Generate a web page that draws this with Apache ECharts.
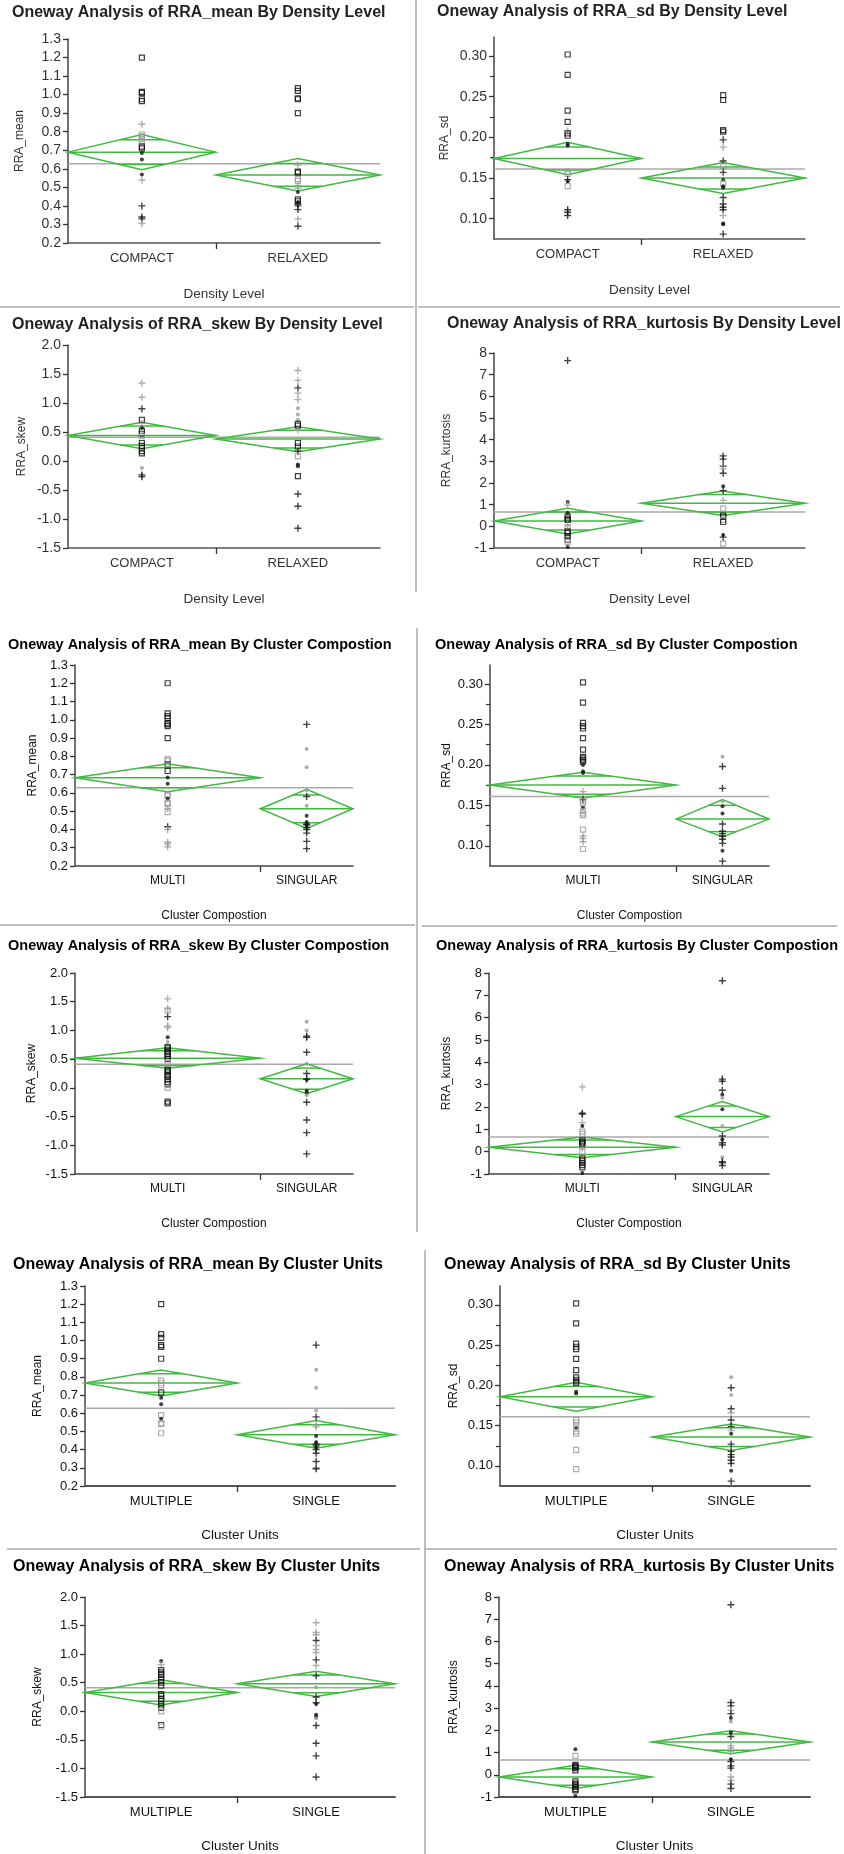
<!DOCTYPE html>
<html><head><meta charset="utf-8">
<script src="https://cdn.jsdelivr.net/npm/echarts@6/dist/echarts.min.js"></script>
<style>html,body{margin:0;padding:0;background:#fff}#c{width:844px;height:1854px}</style>
</head><body><div id="c"></div><script>
// ---------------- DATA ----------------
// factors
const densityCats = ['COMPACT', 'RELAXED'];
const densityN = [27, 30];
const compositionCats = ['MULTI', 'SINGULAR'];
const compositionN = [38, 19];
const unitsCats = ['MULTIPLE', 'SINGLE'];
const unitsN = [28, 29];

// tick values
const meanTicks = [0.2,0.3,0.4,0.5,0.6,0.7,0.8,0.9,1.0,1.1,1.2,1.3];
const sdTicks = [0.10,0.15,0.20,0.25,0.30];
const sdMinorTicks = [0.125,0.175,0.225,0.275];
const skewTicks = [-1.5,-1.0,-0.5,0.0,0.5,1.0,1.5,2.0];
const kurtTicks = [-1,0,1,2,3,4,5,6,7,8];

// grand means
const gmMean = 0.628, gmSd = 0.161, gmSkew = 0.41, gmKurt = 0.66;

// point codes: s=square, p=plus, d=dot ; k=black, g=grey
const meanDensity_COMPACT = [[1.20,'sk'],[1.015,'sk'],[1.01,'sk'],[0.975,'sk'],[0.965,'sk'],[0.84,'pg'],[0.785,'sg'],[0.775,'sg'],[0.76,'sg'],[0.75,'sg'],[0.72,'sk'],[0.71,'sk'],[0.685,'dk'],[0.65,'dk'],[0.57,'dk'],[0.54,'pg'],[0.40,'pk'],[0.34,'pk'],[0.33,'pk'],[0.305,'pg']];
const meanDensity_RELAXED = [[1.035,'sk'],[1.02,'sk'],[0.98,'sk'],[0.975,'sk'],[0.90,'sk'],[0.62,'pg'],[0.585,'sk'],[0.58,'sk'],[0.545,'sg'],[0.535,'sg'],[0.51,'pg'],[0.495,'pg'],[0.475,'dk'],[0.435,'sk'],[0.425,'sk'],[0.42,'dk'],[0.41,'pk'],[0.40,'pk'],[0.38,'pk'],[0.33,'pg'],[0.29,'pk']];
const meanDensity_stats = [[0.69,0.595,0.785],[0.567,0.48,0.655]];

const sdDensity_COMPACT = [[0.302,'sk'],[0.277,'sk'],[0.233,'sk'],[0.219,'sk'],[0.208,'pg'],[0.205,'sk'],[0.202,'sk'],[0.192,'dk'],[0.19,'dk'],[0.158,'sg'],[0.155,'sg'],[0.148,'pk'],[0.146,'dk'],[0.14,'sg'],[0.111,'pk'],[0.108,'pk'],[0.104,'pk']];
const sdDensity_RELAXED = [[0.252,'sk'],[0.246,'sk'],[0.209,'sk'],[0.207,'sk'],[0.197,'pk'],[0.188,'pg'],[0.171,'pk'],[0.165,'sg'],[0.157,'pk'],[0.148,'dk'],[0.143,'sg'],[0.14,'dk'],[0.138,'dk'],[0.126,'pk'],[0.118,'pk'],[0.114,'pk'],[0.111,'pk'],[0.104,'pg'],[0.094,'dk'],[0.093,'dk'],[0.081,'pk']];
const sdDensity_stats = [[0.174,0.154,0.194],[0.150,0.131,0.169]];

const skewDensity_COMPACT = [[1.345,'pg'],[1.10,'pg'],[0.90,'pk'],[0.71,'sk'],[0.65,'pg'],[0.57,'dk'],[0.52,'sk'],[0.47,'sk'],[0.43,'sg'],[0.31,'sk'],[0.26,'sk'],[0.22,'sk'],[0.17,'sk'],[0.13,'sk'],[-0.12,'dg'],[-0.24,'pk'],[-0.27,'pk']];
const skewDensity_RELAXED = [[1.56,'pg'],[1.39,'pg'],[1.26,'pk'],[1.17,'pg'],[1.06,'pg'],[0.91,'dg'],[0.80,'dg'],[0.71,'dg'],[0.64,'sk'],[0.61,'sk'],[0.54,'pg'],[0.31,'sk'],[0.25,'sk'],[0.17,'pk'],[0.08,'sg'],[-0.06,'dk'],[-0.09,'dk'],[-0.26,'sk'],[-0.57,'pk'],[-0.78,'pk'],[-1.16,'pk']];
const skewDensity_stats = [[0.44,0.21,0.67],[0.38,0.16,0.59]];

const kurtDensity_COMPACT = [[7.65,'pk'],[1.12,'dk'],[0.98,'pg'],[0.62,'dk'],[0.46,'sk'],[0.36,'sk'],[0.30,'sk'],[0.08,'pg'],[-0.08,'sg'],[-0.23,'sk'],[-0.30,'sk'],[-0.45,'sk'],[-0.62,'sk'],[-0.72,'sg'],[-0.95,'dk']];
const kurtDensity_RELAXED = [[3.25,'pk'],[3.1,'pk'],[2.78,'pk'],[2.65,'pg'],[2.45,'pk'],[1.85,'dk'],[1.65,'pk'],[1.2,'pg'],[0.82,'sg'],[0.5,'sk'],[0.45,'sk'],[0.3,'sg'],[0.2,'sk'],[-0.4,'dk'],[-0.5,'pk'],[-0.8,'sg']];
const kurtDensity_stats = [[0.25,-0.35,0.83],[1.07,0.5,1.63]];

const meanComp_MULTI = [[1.20,'sk'],[1.035,'sk'],[1.02,'sk'],[1.01,'sk'],[0.98,'sk'],[0.975,'sk'],[0.965,'sk'],[0.90,'sk'],[0.785,'sg'],[0.775,'sg'],[0.755,'sk'],[0.75,'sg'],[0.72,'sk'],[0.685,'dk'],[0.65,'dk'],[0.59,'sg'],[0.585,'sg'],[0.57,'dk'],[0.545,'sg'],[0.54,'sg'],[0.515,'pg'],[0.495,'sg'],[0.415,'pk'],[0.40,'pg'],[0.33,'pg'],[0.32,'pg'],[0.305,'pg']];
const meanComp_SINGULAR = [[0.975,'pk'],[0.84,'dg'],[0.74,'dg'],[0.615,'dg'],[0.58,'pk'],[0.53,'dg'],[0.475,'dk'],[0.44,'dk'],[0.43,'pk'],[0.425,'pk'],[0.42,'dk'],[0.41,'pk'],[0.40,'pk'],[0.38,'pk'],[0.335,'pk'],[0.295,'pk']];
const meanComp_stats = [[0.683,0.606,0.76],[0.513,0.405,0.62]];

const sdComp_MULTI = [[0.302,'sk'],[0.277,'sk'],[0.252,'sk'],[0.248,'sk'],[0.245,'sk'],[0.233,'sk'],[0.219,'sk'],[0.21,'sk'],[0.208,'sk'],[0.206,'sk'],[0.204,'sk'],[0.2,'dk'],[0.192,'dk'],[0.19,'dk'],[0.167,'pg'],[0.16,'pg'],[0.157,'pk'],[0.155,'sg'],[0.152,'sg'],[0.147,'dk'],[0.143,'sg'],[0.14,'sg'],[0.138,'sg'],[0.12,'sg'],[0.112,'pg'],[0.109,'pg'],[0.105,'pg'],[0.096,'sg']];
const sdComp_SINGULAR = [[0.21,'dg'],[0.198,'pk'],[0.171,'pk'],[0.155,'dg'],[0.149,'dk'],[0.14,'dk'],[0.127,'pk'],[0.118,'pk'],[0.115,'pk'],[0.112,'pk'],[0.108,'pk'],[0.103,'pk'],[0.094,'dk'],[0.081,'pk']];
const sdComp_stats = [[0.175,0.159,0.191],[0.133,0.111,0.157]];

const skewComp_MULTI = [[1.55,'pg'],[1.38,'pg'],[1.35,'sg'],[1.24,'pk'],[1.08,'pg'],[1.05,'pg'],[0.88,'dk'],[0.80,'dg'],[0.71,'sk'],[0.69,'sk'],[0.65,'sk'],[0.62,'sk'],[0.59,'sk'],[0.55,'sk'],[0.5,'sk'],[0.44,'sg'],[0.32,'sk'],[0.3,'sk'],[0.27,'sk'],[0.22,'sk'],[0.2,'sk'],[0.15,'sk'],[0.1,'sk'],[0.06,'sk'],[0.0,'sg'],[-0.24,'sk'],[-0.27,'sk']];
const skewComp_SINGULAR = [[1.15,'dg'],[1.0,'dg'],[0.9,'pk'],[0.88,'pk'],[0.62,'pk'],[0.42,'dg'],[0.25,'pk'],[0.15,'pk'],[0.14,'dk'],[-0.05,'dk'],[-0.08,'dk'],[-0.13,'dg'],[-0.25,'pk'],[-0.56,'pk'],[-0.78,'pk'],[-1.15,'pk']];
const skewComp_stats = [[0.515,0.34,0.70],[0.16,-0.10,0.42]];

const kurtComp_MULTI = [[2.9,'pg'],[1.72,'pk'],[1.68,'pk'],[1.3,'pg'],[1.15,'dk'],[0.9,'sg'],[0.8,'sg'],[0.5,'sk'],[0.45,'sk'],[0.4,'sk'],[0.35,'sk'],[0.15,'pg'],[0.0,'sg'],[-0.3,'sk'],[-0.4,'sk'],[-0.5,'sk'],[-0.6,'sk'],[-0.7,'sk'],[-0.95,'dk']];
const kurtComp_SINGULAR = [[7.65,'pk'],[3.25,'pk'],[3.15,'pk'],[2.75,'pk'],[2.55,'dk'],[2.4,'dg'],[1.9,'dk'],[1.15,'dg'],[0.7,'pk'],[0.55,'dk'],[0.4,'pk'],[0.3,'pk'],[-0.25,'dg'],[-0.45,'pk'],[-0.5,'pk'],[-0.62,'pk']];
const kurtComp_stats = [[0.2,-0.27,0.66],[1.57,0.88,2.24]];

const meanUnits_MULTIPLE = [[1.20,'sk'],[1.035,'sk'],[1.015,'sk'],[0.975,'sk'],[0.965,'sk'],[0.90,'sk'],[0.78,'sg'],[0.765,'sg'],[0.755,'sg'],[0.715,'sk'],[0.685,'dk'],[0.65,'dk'],[0.59,'sg'],[0.57,'dk'],[0.545,'sg'],[0.54,'sg'],[0.49,'sg']];
const meanUnits_SINGLE = [[0.975,'pk'],[0.84,'dg'],[0.74,'dg'],[0.615,'dg'],[0.58,'pk'],[0.535,'pg'],[0.525,'pg'],[0.475,'dk'],[0.44,'dk'],[0.43,'pk'],[0.42,'pk'],[0.41,'dk'],[0.40,'pk'],[0.38,'pk'],[0.335,'pk'],[0.30,'pg'],[0.295,'pk']];
const meanUnits_stats = [[0.767,0.695,0.838],[0.482,0.408,0.56]];

const sdUnits_MULTIPLE = [[0.302,'sk'],[0.277,'sk'],[0.252,'sk'],[0.248,'sk'],[0.245,'sk'],[0.233,'sk'],[0.219,'sk'],[0.21,'sk'],[0.207,'sk'],[0.205,'sk'],[0.203,'sk'],[0.192,'dk'],[0.19,'dk'],[0.157,'sg'],[0.154,'sg'],[0.15,'sg'],[0.147,'dk'],[0.143,'sg'],[0.14,'sg'],[0.12,'sg'],[0.096,'sg']];
const sdUnits_SINGLE = [[0.21,'dg'],[0.197,'pk'],[0.188,'dg'],[0.171,'pk'],[0.166,'pg'],[0.157,'pk'],[0.149,'pk'],[0.144,'pg'],[0.14,'dk'],[0.127,'pk'],[0.118,'pk'],[0.114,'pk'],[0.111,'pk'],[0.107,'pk'],[0.103,'pk'],[0.094,'dk'],[0.081,'pk']];
const sdUnits_stats = [[0.186,0.168,0.204],[0.136,0.119,0.152]];

const skewUnits_MULTIPLE = [[0.88,'dk'],[0.82,'pg'],[0.72,'sk'],[0.68,'sk'],[0.65,'sk'],[0.6,'sk'],[0.55,'sk'],[0.5,'sk'],[0.45,'sk'],[0.3,'sk'],[0.27,'sk'],[0.22,'sk'],[0.18,'sk'],[0.12,'sk'],[0.06,'sk'],[0.0,'sg'],[-0.24,'sk'],[-0.27,'sg']];
const skewUnits_SINGLE = [[1.55,'pg'],[1.38,'pg'],[1.34,'pg'],[1.24,'pk'],[1.15,'pg'],[1.08,'pg'],[1.03,'pg'],[0.9,'pk'],[0.8,'pg'],[0.62,'pk'],[0.42,'dg'],[0.25,'pk'],[0.15,'pk'],[0.13,'dk'],[-0.06,'dk'],[-0.09,'dk'],[-0.12,'dg'],[-0.25,'pk'],[-0.56,'pk'],[-0.78,'pk'],[-1.15,'pk']];
const skewUnits_stats = [[0.33,0.11,0.55],[0.48,0.26,0.70]];

const kurtUnits_MULTIPLE = [[1.15,'dk'],[0.85,'sg'],[0.45,'sk'],[0.4,'sk'],[0.35,'sk'],[0.3,'sk'],[0.2,'sk'],[-0.3,'sk'],[-0.4,'sk'],[-0.45,'sk'],[-0.55,'sk'],[-0.65,'sk'],[-0.7,'sk'],[-0.95,'dk']];
const kurtUnits_SINGLE = [[7.65,'pk'],[3.25,'pk'],[3.1,'pk'],[2.9,'pg'],[2.75,'pk'],[2.55,'dk'],[2.4,'dg'],[1.9,'dk'],[1.72,'pk'],[1.3,'pg'],[1.2,'pg'],[1.05,'pg'],[0.7,'dk'],[0.6,'pk'],[0.4,'pk'],[0.3,'pk'],[-0.1,'pg'],[-0.25,'pg'],[-0.42,'pk'],[-0.62,'pk']];
const kurtUnits_stats = [[-0.1,-0.62,0.43],[1.47,0.95,1.98]];

// ---------------- CONFIG (no data below) ----------------
const FONT = '"Liberation Sans", Arial, Helvetica, sans-serif';
const GREEN = '#41b941';
const factors = {
  density: {name: 'Density Level', cats: densityCats, n: densityN},
  comp: {name: 'Cluster Compostion', cats: compositionCats, n: compositionN},
  units: {name: 'Cluster Units', cats: unitsCats, n: unitsN}
};
const measures = {
  mean: {name: 'RRA_mean', min: 0.2, max: 1.3, ticks: meanTicks, minor: [], dec: 1, gm: gmMean},
  sd: {name: 'RRA_sd', min: 0.075, max: 0.3235, ticks: sdTicks, minor: sdMinorTicks, dec: 2, gm: gmSd},
  skew: {name: 'RRA_skew', min: -1.5, max: 2.0, ticks: skewTicks, minor: [], dec: 1, gm: gmSkew},
  kurtosis: {name: 'RRA_kurtosis', min: -1, max: 8, ticks: kurtTicks, minor: [], dec: 0, gm: gmKurt}
};
const panels = [
  ['mean','density',[meanDensity_COMPACT,meanDensity_RELAXED],meanDensity_stats],
  ['sd','density',[sdDensity_COMPACT,sdDensity_RELAXED],sdDensity_stats],
  ['skew','density',[skewDensity_COMPACT,skewDensity_RELAXED],skewDensity_stats],
  ['kurtosis','density',[kurtDensity_COMPACT,kurtDensity_RELAXED],kurtDensity_stats],
  ['mean','comp',[meanComp_MULTI,meanComp_SINGULAR],meanComp_stats],
  ['sd','comp',[sdComp_MULTI,sdComp_SINGULAR],sdComp_stats],
  ['skew','comp',[skewComp_MULTI,skewComp_SINGULAR],skewComp_stats],
  ['kurtosis','comp',[kurtComp_MULTI,kurtComp_SINGULAR],kurtComp_stats],
  ['mean','units',[meanUnits_MULTIPLE,meanUnits_SINGLE],meanUnits_stats],
  ['sd','units',[sdUnits_MULTIPLE,sdUnits_SINGLE],sdUnits_stats],
  ['skew','units',[skewUnits_MULTIPLE,skewUnits_SINGLE],skewUnits_stats],
  ['kurtosis','units',[kurtUnits_MULTIPLE,kurtUnits_SINGLE],kurtUnits_stats]
];
// layout: left, top, width, height, titleX, titleTop, yNameGap, style-group
const layout = [
  [68, 39, 312, 204, 12, 5, 42, 0],
  [494, 37, 311, 202, 437, 4, 43, 0],
  [68, 345, 312, 203, 12, 317, 40, 0],
  [494, 353, 311, 195, 447, 316, 41, 0],
  [75, 665, 278, 201, 8, 637, 36, 1],
  [490, 665, 279, 201, 435, 637, 37, 1],
  [75, 973, 278, 201, 8, 938, 37, 1],
  [489, 973, 280, 201, 436, 938, 36, 1],
  [85, 1286, 310, 200, 13, 1257, 41, 2],
  [500, 1286, 310, 200, 444, 1257, 40, 2],
  [85, 1597, 310, 200, 13, 1559, 41, 2],
  [499, 1597, 311, 200, 444, 1559, 39, 2]
];
const styles = [
  {title: 16, titleColor: '#222', yl: 14, xl: 13, xn: 13.5, yn: 12, text: '#333', xGap: 44, axisW: 1.5, axisC: '#555'},
  {title: 14.5, titleColor: '#000', yl: 13, xl: 12, xn: 12, yn: 12, text: '#111', xGap: 44, axisW: 1.5, axisC: '#444'},
  {title: 16, titleColor: '#000', yl: 13, xl: 13, xn: 13.5, yn: 12, text: '#111', xGap: 42, axisW: 2, axisC: '#555'}
];
const PLUS = 'path://M4,0H6V4H10V6H6V10H4V6H0V4H4Z';
function markerItem(x, pt) {
  const code = pt[1];
  const col = code[1] === 'k' ? '#111' : '#9a9a9a';
  if (code[0] === 's') return {value: [x, pt[0]], symbol: 'rect', symbolSize: 5, itemStyle: {color: 'rgba(0,0,0,0)', borderColor: col, borderWidth: 1.2}};
  if (code[0] === 'p') return {value: [x, pt[0]], symbol: PLUS, symbolSize: 7, itemStyle: {color: col}};
  return {value: [x, pt[0]], symbol: 'circle', symbolSize: 4, itemStyle: {color: col}};
}

const option = {animation: false, backgroundColor: '#fff', title: [], grid: [], xAxis: [], yAxis: [], series: [], graphic: []};
let yIdx = 0;
panels.forEach((p, i) => {
  const m = measures[p[0]], f = factors[p[1]], L = layout[i], S = styles[L[7]];
  const N = f.n[0] + f.n[1];
  const bounds = [[0, f.n[0]], [f.n[0], N]];
  option.title.push({text: 'Oneway Analysis of ' + m.name + ' By ' + f.name, left: L[4], top: L[5], padding: 0,
    textStyle: {fontFamily: FONT, fontSize: S.title, fontWeight: 'bold', color: S.titleColor}});
  option.grid.push({left: L[0], top: L[1], width: L[2], height: L[3]});
  option.xAxis.push({gridIndex: i, type: 'value', min: 0, max: N,
    axisLine: {show: true, onZero: false, lineStyle: {color: S.axisC, width: S.axisW}},
    axisTick: {show: true, customValues: [f.n[0]], length: 6, lineStyle: {color: '#333', width: 1.3}},
    axisLabel: {customValues: [f.n[0] / 2, f.n[0] + f.n[1] / 2], formatter: v => (v < f.n[0] ? f.cats[0] : f.cats[1]),
      fontFamily: FONT, fontSize: S.xl, color: S.text, margin: 9},
    splitLine: {show: false},
    name: f.name, nameLocation: 'middle', nameGap: S.xGap, nameTextStyle: {fontFamily: FONT, fontSize: S.xn, color: S.text}});
  const yMain = yIdx;
  option.yAxis.push({gridIndex: i, type: 'value', position: 'left', min: m.min, max: m.max,
    axisLine: {show: true, onZero: false, lineStyle: {color: '#444', width: 1.5}},
    axisTick: {show: true, customValues: m.ticks, length: 5, lineStyle: {color: '#333', width: 1.3}},
    axisLabel: {customValues: m.ticks, formatter: v => v.toFixed(m.dec), fontFamily: FONT, fontSize: S.yl, color: S.text, margin: 7},
    splitLine: {show: false},
    name: m.name, nameLocation: 'middle', nameRotate: 90, nameGap: L[6], nameTextStyle: {fontFamily: FONT, fontSize: S.yn, color: S.text}});
  yIdx++;
  if (m.minor.length) {
    option.yAxis.push({gridIndex: i, type: 'value', position: 'left', min: m.min, max: m.max,
      axisLine: {show: false}, axisTick: {show: true, customValues: m.minor, length: 4, lineStyle: {color: '#333', width: 1.2}},
      axisLabel: {show: false}, splitLine: {show: false}});
    yIdx++;
  }
  // grand mean line
  option.series.push({type: 'line', xAxisIndex: i, yAxisIndex: yMain, data: [[0, m.gm], [N, m.gm]], symbol: 'none',
    lineStyle: {color: '#aaaaaa', width: 1.5}, z: 1, silent: true});
  // means diamonds
  option.series.push({type: 'custom', xAxisIndex: i, yAxisIndex: yMain, z: 2, silent: true,
    data: p[3].map((s, g) => [bounds[g][0], bounds[g][1], s[0], s[1], s[2]]),
    encode: {x: [0, 1], y: [2, 3, 4]},
    renderItem: (params, api) => {
      const x0 = api.value(0), x1 = api.value(1), mu = api.value(2), lo = api.value(3), hi = api.value(4);
      const xc = (x0 + x1) / 2;
      const pl = api.coord([x0, mu]), pr = api.coord([x1, mu]), pt = api.coord([xc, hi]), pb = api.coord([xc, lo]);
      const frac = 1 - 1 / Math.SQRT2;
      const xa = xc - frac * (xc - x0), xb = xc + frac * (x1 - xc);
      const dU = (hi - mu) / Math.SQRT2, dL = (mu - lo) / Math.SQRT2;
      const o1a = api.coord([xa, mu + dU]), o1b = api.coord([xb, mu + dU]);
      const o2a = api.coord([xa, mu - dL]), o2b = api.coord([xb, mu - dL]);
      const st = {stroke: GREEN, lineWidth: 1.5, fill: null};
      return {type: 'group', children: [
        {type: 'polygon', shape: {points: [pl, pt, pr, pb]}, style: st},
        {type: 'line', shape: {x1: pl[0], y1: pl[1], x2: pr[0], y2: pr[1]}, style: st},
        {type: 'line', shape: {x1: o1a[0], y1: o1a[1], x2: o1b[0], y2: o1b[1]}, style: st},
        {type: 'line', shape: {x1: o2a[0], y1: o2a[1], x2: o2b[0], y2: o2b[1]}, style: st}
      ]};
    }});
  // points
  const pts = [];
  p[2].forEach((grp, g) => {
    const xc = (bounds[g][0] + bounds[g][1]) / 2;
    grp.forEach(pt => pts.push(markerItem(xc, pt)));
  });
  option.series.push({type: 'scatter', xAxisIndex: i, yAxisIndex: yMain, data: pts, z: 3, silent: true});
});

// panel separators
const SEP = {stroke: '#a8a8a8', lineWidth: 1.5};
[[416, 0, 416, 592], [0, 307, 414, 307], [418, 307, 840, 307],
 [417, 628, 417, 1232], [0, 925, 415, 925], [422, 926, 837, 926],
 [425, 1250, 425, 1854], [7, 1549, 420, 1549], [425, 1549, 837, 1549]].forEach(s => {
  option.graphic.push({type: 'line', shape: {x1: s[0], y1: s[1], x2: s[2], y2: s[3]}, style: SEP, silent: true});
});

const chart = echarts.init(document.getElementById('c'), null, {renderer: 'canvas'});
chart.setOption(option);
</script></body></html>
